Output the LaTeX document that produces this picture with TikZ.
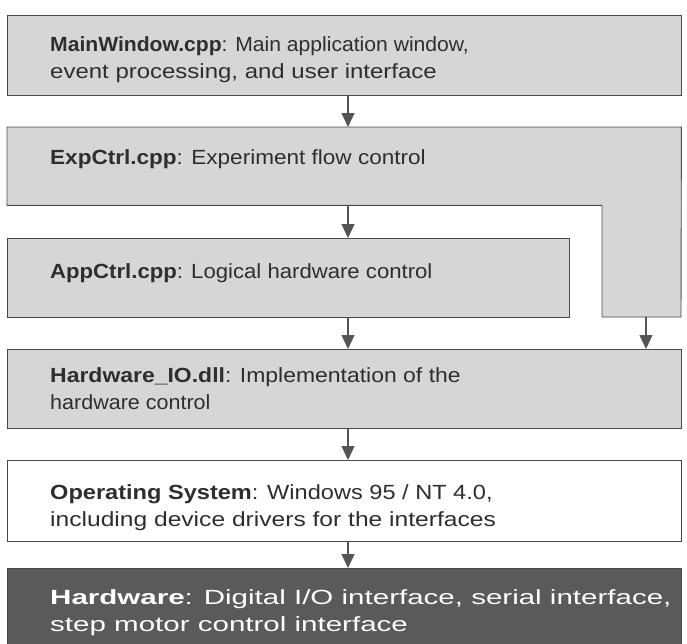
\documentclass[tikz,border=0pt]{standalone}
\usepackage{fontspec}
\usepackage{graphicx}
\setmainfont{Liberation Sans}
\usetikzlibrary{arrows.meta}
\definecolor{boxfill}{HTML}{D6D6D6}
\definecolor{boxline}{HTML}{4A4A4A}
\definecolor{darkfill}{HTML}{5A5A5A}
\definecolor{txt}{HTML}{2E2E2E}
\definecolor{arrcol}{HTML}{555555}
\newcommand{\xs}[2]{\scalebox{#1}[1]{#2}}
\tikzset{
  layer/.style={draw=boxline, line width=0.9pt, fill=boxfill, rectangle, inner sep=0pt},
  txtnode/.style={anchor=west, align=left, inner sep=0pt, text=txt,
     font=\fontsize{20.5}{27}\selectfont},
  arr/.style={draw=arrcol, line width=1.1pt,
     -{Triangle[width=13pt,length=14pt,fill=arrcol]}},
}
\begin{document}
\begin{tikzpicture}[x=1pt,y=-1pt]
\useasboundingbox (0,0) rectangle (687,643);
\clip (0,0) rectangle (687,643);
\fill[white] (0,0) rectangle (687,643);
\coordinate (ax) at (348,0);
% boxes
\node[layer, minimum width=674pt, minimum height=80pt, anchor=north west] (main) at (7,15) {};
\node[inner sep=0pt, minimum width=674pt, minimum height=78pt, anchor=north west] (exp) at (7,127) {};
\coordinate (expcolbot) at (681,317);
\coordinate (expinner) at (602,317);
\draw[layer] (exp.north west) -- (exp.north east) -- (expcolbot) -- (expinner)
   -- (expinner |- exp.south) -- (exp.south west) -- cycle;
\node[layer, minimum width=562pt, minimum height=79pt, anchor=north west] (app) at (7,238) {};
\node[layer, minimum width=674pt, minimum height=79pt, anchor=north west] (hwio) at (7,349) {};
\node[layer, fill=white, minimum width=674pt, minimum height=81pt, anchor=north west] (os) at (7,460) {};
\node[layer, fill=darkfill, minimum width=674pt, minimum height=84pt, anchor=north west] (hw) at (7,568) {};
% texts
\node[txtnode] (t1) at (50,60) {\xs{1.03}{\textbf{MainWindow.cpp}: Main application window,}\\\xs{1.17}{event processing, and user interface}};
\node[txtnode] (t2) at (50,159) {\xs{1.10}{\textbf{ExpCtrl.cpp}: Experiment flow control}};
\node[txtnode] (t3) at (50,273) {\xs{1.08}{\textbf{AppCtrl.cpp}: Logical hardware control}};
\node[txtnode] (t4) at (50,389) {\xs{1.12}{\textbf{Hardware\_IO.dll}: Implementation of the}\\\xs{1.05}{hardware control}};
\node[txtnode] (t5) at (50,508) {\xs{1.15}{\textbf{Operating System}: Windows 95 / NT 4.0,}\\\xs{1.20}{including device drivers for the interfaces}};
\node[txtnode, text=white] (t6) at (50,613) {\xs{1.44}{\textbf{Hardware}: Digital I/O interface, serial interface,}\\\xs{1.44}{step motor control interface}};
% connectors
\coordinate (rc) at (646,317);
\draw[arr] (main.south -| ax) -- (exp.north -| ax);
\draw[arr] (exp.south -| ax) -- (app.north -| ax);
\draw[arr] (app.south -| ax) -- (hwio.north -| ax);
\draw[arr] (rc) -- (hwio.north -| rc);
\draw[arr] (hwio.south -| ax) -- (os.north -| ax);
\draw[arr] (os.south -| ax) -- (hw.north -| ax);
\end{tikzpicture}
\end{document}
